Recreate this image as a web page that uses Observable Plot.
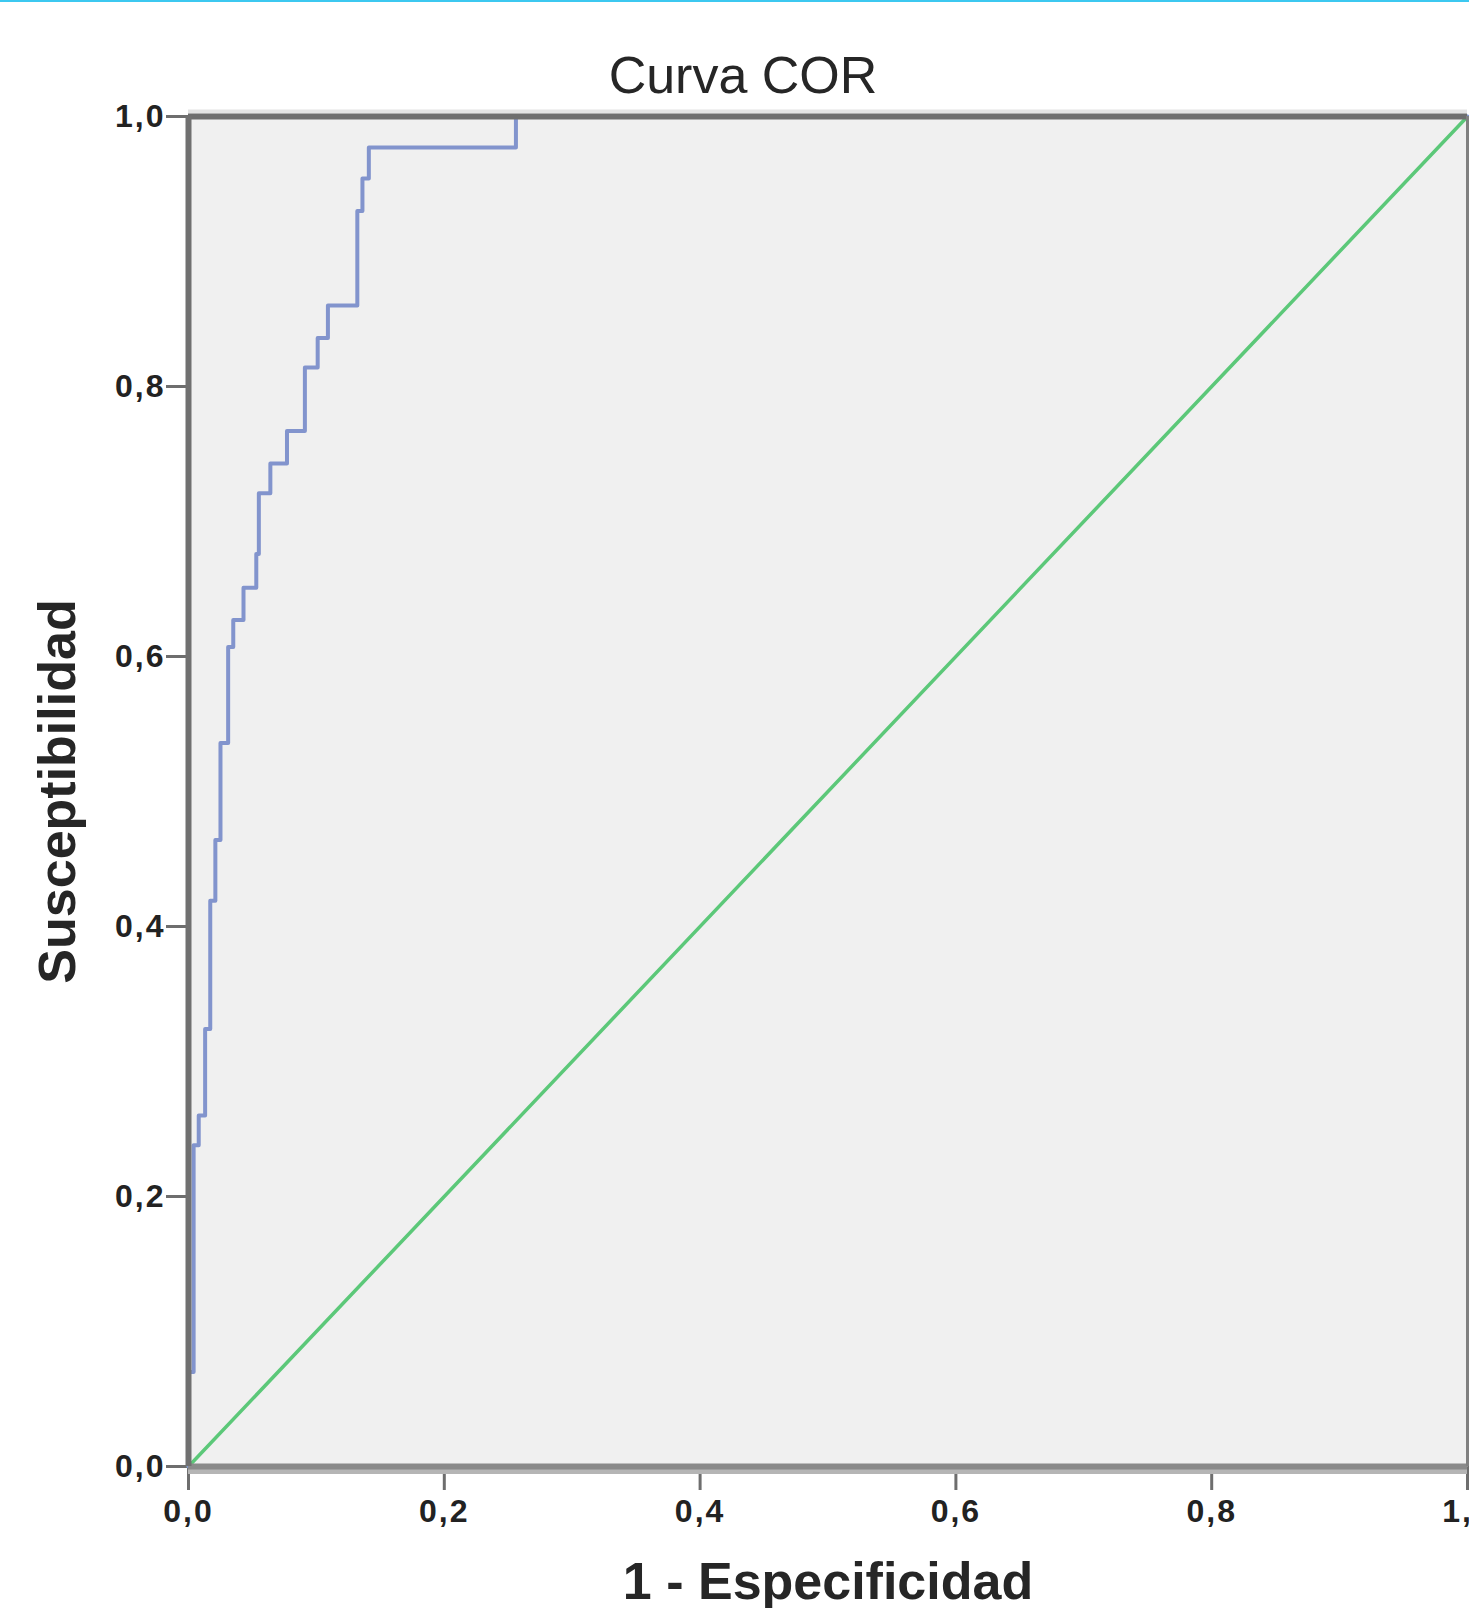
<!DOCTYPE html>
<html>
<head>
<meta charset="utf-8">
<script src="https://cdn.jsdelivr.net/npm/d3@7"></script>
<script src="https://cdn.jsdelivr.net/npm/@observablehq/plot@0.6"></script>
<style>
html, body { margin: 0; padding: 0; background: #fff; overflow: hidden; width: 1469px; height: 1608px; }
#top { position: relative; height: 96px; width: 1469px; }
#bar { position: absolute; left: 0; top: 0; width: 1469px; height: 2px; background: #3cc8f0; }
#title { position: absolute; left: 0; top: 49px; width: 1486px; text-align: center;
  font: 52px/52px "Liberation Sans", Arial, sans-serif; color: #262626; white-space: nowrap; }
#chart svg { display: block; overflow: hidden; max-width: none; }
#chart g[aria-label^="x-axis"] text, #chart g[aria-label^="y-axis"] text {
  font-family: "Liberation Sans", Arial, sans-serif; font-weight: bold; font-size: 32px; fill: #222; letter-spacing: 2px; }
#chart g[aria-label^="x-axis"] line, #chart g[aria-label^="x-axis"] path,
#chart g[aria-label^="y-axis"] line, #chart g[aria-label^="y-axis"] path {
  stroke: #6e6e6e; stroke-width: 3px; }
</style>
</head>
<body>
<div id="top"><div id="bar"></div><div id="title"></div></div>
<div id="chart"></div>
<script>
const chartTitle = "Curva COR";
const xTitle = "1 - Especificidad";
const yTitle = "Susceptibilidad";
const tickValues = [0, 0.2, 0.4, 0.6, 0.8, 1.0];

// ROC curve vertices (1 - specificity, sensitivity)
const fpr = [0, 0, 0.004, 0.004, 0.008, 0.008, 0.013, 0.013, 0.017, 0.017, 0.021, 0.021,
  0.025, 0.025, 0.031, 0.031, 0.035, 0.035, 0.043, 0.043, 0.053, 0.053, 0.055, 0.055,
  0.064, 0.064, 0.077, 0.077, 0.091, 0.091, 0.101, 0.101, 0.109, 0.109, 0.132, 0.132,
  0.136, 0.136, 0.141, 0.141, 0.256, 0.256, 1];
const tpr = [0, 0.07, 0.07, 0.238, 0.238, 0.26, 0.26, 0.324, 0.324, 0.419, 0.419, 0.464,
  0.464, 0.536, 0.536, 0.607, 0.607, 0.627, 0.627, 0.651, 0.651, 0.676, 0.676, 0.721,
  0.721, 0.743, 0.743, 0.767, 0.767, 0.814, 0.814, 0.836, 0.836, 0.860, 0.860, 0.930,
  0.930, 0.954, 0.954, 0.977, 0.977, 1, 1];

// reference (chance) line
const diagX = [0, 1];
const diagY = [0, 1];

document.getElementById("title").textContent = chartTitle;

const curve = fpr.map((x, i) => ({x, y: tpr[i]}));
const diag = diagX.map((x, i) => ({x, y: diagY[i]}));
const fmt = d => d.toFixed(1).replace(".", ",");
const font = '"Liberation Sans", Arial, sans-serif';

const plot = Plot.plot({
  width: 1469,
  height: 1512,
  marginLeft: 188,
  marginRight: 2,
  marginTop: 20,
  marginBottom: 142,
  style: {fontFamily: font, fontSize: "32px", fontWeight: "bold", background: "#fff", overflow: "hidden"},
  x: {domain: [0, 1], ticks: tickValues, tickSize: 24, tickPadding: 9, tickFormat: fmt, label: null},
  y: {domain: [0, 1], ticks: tickValues, tickSize: 22, tickPadding: 1, tickFormat: fmt, label: null},
  marks: [
    Plot.frame({fill: "#f0f0f0", stroke: "none"}),
    Plot.line(diag, {x: "x", y: "y", stroke: "#5cc879", strokeWidth: 3.5}),
    Plot.line(curve, {x: "x", y: "y", stroke: "#8294cd", strokeWidth: 4}),
    Plot.ruleY([1], {stroke: "#e3e3e3", strokeWidth: 4, dy: -5}),
    Plot.ruleY([1], {stroke: "#6e6e6e", strokeWidth: 6}),
    Plot.ruleY([0], {stroke: "#b5b5b5", strokeWidth: 5, dy: 5}),
    Plot.ruleY([0], {stroke: "#8a8a8a", strokeWidth: 6}),
    Plot.ruleX([0], {stroke: "#707070", strokeWidth: 6}),
    Plot.ruleX([1], {stroke: "#808080", strokeWidth: 3}),
    Plot.text([yTitle], {frameAnchor: "left", textAnchor: "middle", dx: -130, rotate: -90, text: d => d,
      fontSize: 52, fontWeight: "bold", fill: "#262626"}),
    Plot.text([xTitle], {frameAnchor: "bottom", dy: 132, text: d => d,
      fontSize: 52, fontWeight: "bold", fill: "#262626"})
  ]
});
document.getElementById("chart").appendChild(plot);
</script>
</body>
</html>
